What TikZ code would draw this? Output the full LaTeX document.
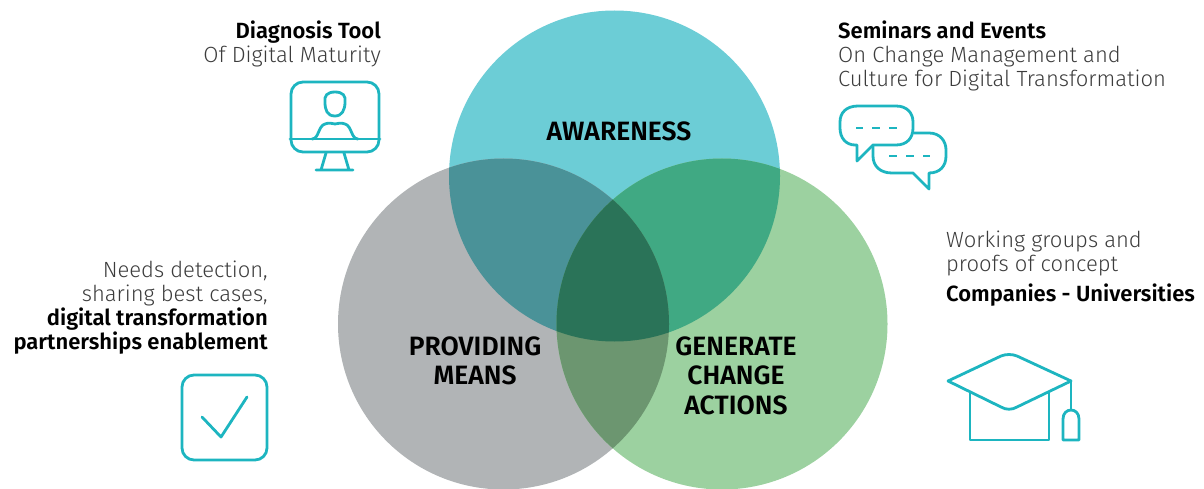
\documentclass[tikz,border=0pt]{standalone}
\usepackage{fontspec}
\setmainfont{Fira Sans Light}[BoldFont={Fira Sans SemiBold}]
\definecolor{cteal}{HTML}{6CCDD6}
\definecolor{cgrey}{HTML}{B1B4B6}
\definecolor{cgreen}{HTML}{9CD1A0}
\definecolor{ctg}{HTML}{4A9298}
\definecolor{ctn}{HTML}{40A983}
\definecolor{cgn}{HTML}{6C9670}
\definecolor{call}{HTML}{2A7358}
\definecolor{cicon}{HTML}{1DB5C0}
\definecolor{ctxt}{HTML}{3C3C3C}
\tikzset{x=1pt,y=-1pt,
 icon/.style={draw=cicon,line width=2.8pt,line cap=round,line join=round},
 lab/.style={font=\fontsize{26.5}{29.5}\selectfont\bfseries,text=black,align=center,inner sep=0},
 txt/.style={font=\fontsize{22}{24}\selectfont,text=ctxt,inner sep=0},
 txb/.style={font=\fontsize{22}{24}\selectfont\bfseries,text=black,inner sep=0}}
\begin{document}
\begin{tikzpicture}
\useasboundingbox (0,0) rectangle (1204,489);
\def\ca{(614.5,176) circle (165.5)}
\def\cb{(503.5,324) circle (165.5)}
\def\cc{(722,324) circle (165.5)}
\fill[cteal] \ca; \fill[cgrey] \cb; \fill[cgreen] \cc;
\begin{scope}\clip \ca; \fill[ctg] \cb; \fill[ctn] \cc; \end{scope}
\begin{scope}\clip \cb; \fill[cgn] \cc; \end{scope}
\begin{scope}\clip \ca; \clip \cb; \fill[call] \cc; \end{scope}
\node[lab] (aw) at (619,131) {AWARENESS};
\node[lab] (pm) at (475,361) {PROVIDING\\MEANS};
\node[lab] (gc) at (736,375.5) {GENERATE\\CHANGE\\ACTIONS};
\node[txt,anchor=north east,align=right] (t1) at (381,20.5) {\textbf{\color{black}Diagnosis Tool}\\Of Digital Maturity};
\node[txt,anchor=north west,align=left] (t2) at (838,20.5) {\textbf{\color{black}Seminars and Events}\\On Change Management and\\Culture for Digital Transformation};
\node[txt,anchor=north east,align=right] (t3) at (268,261) {Needs detection,\\sharing best cases,\\\textbf{\color{black}digital transformation}\\\textbf{\color{black}partnerships enablement}};
\node[txt,anchor=north west,align=left] (t4) at (946,230.5) {Working groups and\\proofs of concept};
\node[txb,anchor=north west] (t5) at (946,284) {Companies - Universities};
% monitor
\draw[icon] (303,82) -- (367,82) arc (-90:0:12) -- (379,140) arc (0:90:12) -- (303,152) arc (90:180:12) -- (291,94) arc (180:270:12) -- cycle;
\draw[icon] (290,139) -- (380,139);
\draw[icon] (335,92) .. controls (327,92) and (324,96) .. (325,102) .. controls (325,110) and (327,116) .. (335,116) .. controls (342,116) and (345,110) .. (345,102) .. controls (346,96) and (343,92) .. (335,92) -- cycle;
\draw[icon] (312,139) .. controls (319,139) and (318,126) .. (325,124) .. controls (330,122) and (332,124) .. (335,124) .. controls (338,124) and (340,122) .. (345,124) .. controls (352,126) and (351,139) .. (358,139);
\draw[icon] (326,153) -- (321,170) (344,153) -- (349,170) (316,170) -- (353,170);
% speech bubbles
\draw[icon] (858,106) -- (896,106) .. controls (907,106) and (913,113) .. (913,122) -- (913,128) .. controls (913,138) and (907,145) .. (896,145) -- (873,145) -- (857,161) -- (857,145) -- (855,145) .. controls (846,145) and (840,138) .. (840,128) -- (840,122) .. controls (840,113) and (846,106) .. (858,106) -- cycle;
\draw[icon] (914,133) -- (929,133) .. controls (940,133) and (946,141) .. (946,150) -- (946,156) .. controls (946,166) and (940,173) .. (929,173) -- (929,189) -- (913,173) -- (892,173) .. controls (880,173) and (873,166) .. (873,156) -- (873,146);
\draw[icon,line cap=butt] (856,128) -- (863,128) (872,128) -- (880,128) (889,128) -- (897,128);
\draw[icon,line cap=butt] (889,156) -- (897,156) (906,156) -- (914,156) (923,156) -- (930,156);
% cap
\draw[icon] (948,381) -- (1001,356) .. controls (1006,354) and (1012,354) .. (1017,356) -- (1071,381) -- (1017,407) .. controls (1012,410) and (1006,410) .. (1001,407) -- cycle;
\draw[icon] (970,393) -- (970,440) -- (1049,440) -- (1049,393);
\draw[icon] (1071,381) -- (1071,410);
\draw[icon] (1063,440) -- (1063,419) .. controls (1063,413) and (1067,410) .. (1071,410) .. controls (1075,410) and (1079,413) .. (1079,419) -- (1079,440) -- cycle;
% check
\draw[icon] (194,375) -- (255,375) arc (-90:0:12) -- (267,448) arc (0:90:12) -- (194,460) arc (90:180:12) -- (182,387) arc (180:270:12) -- cycle;
\draw[icon] (202,417) -- (221,437) -- (247,397);
\end{tikzpicture}
\end{document}
